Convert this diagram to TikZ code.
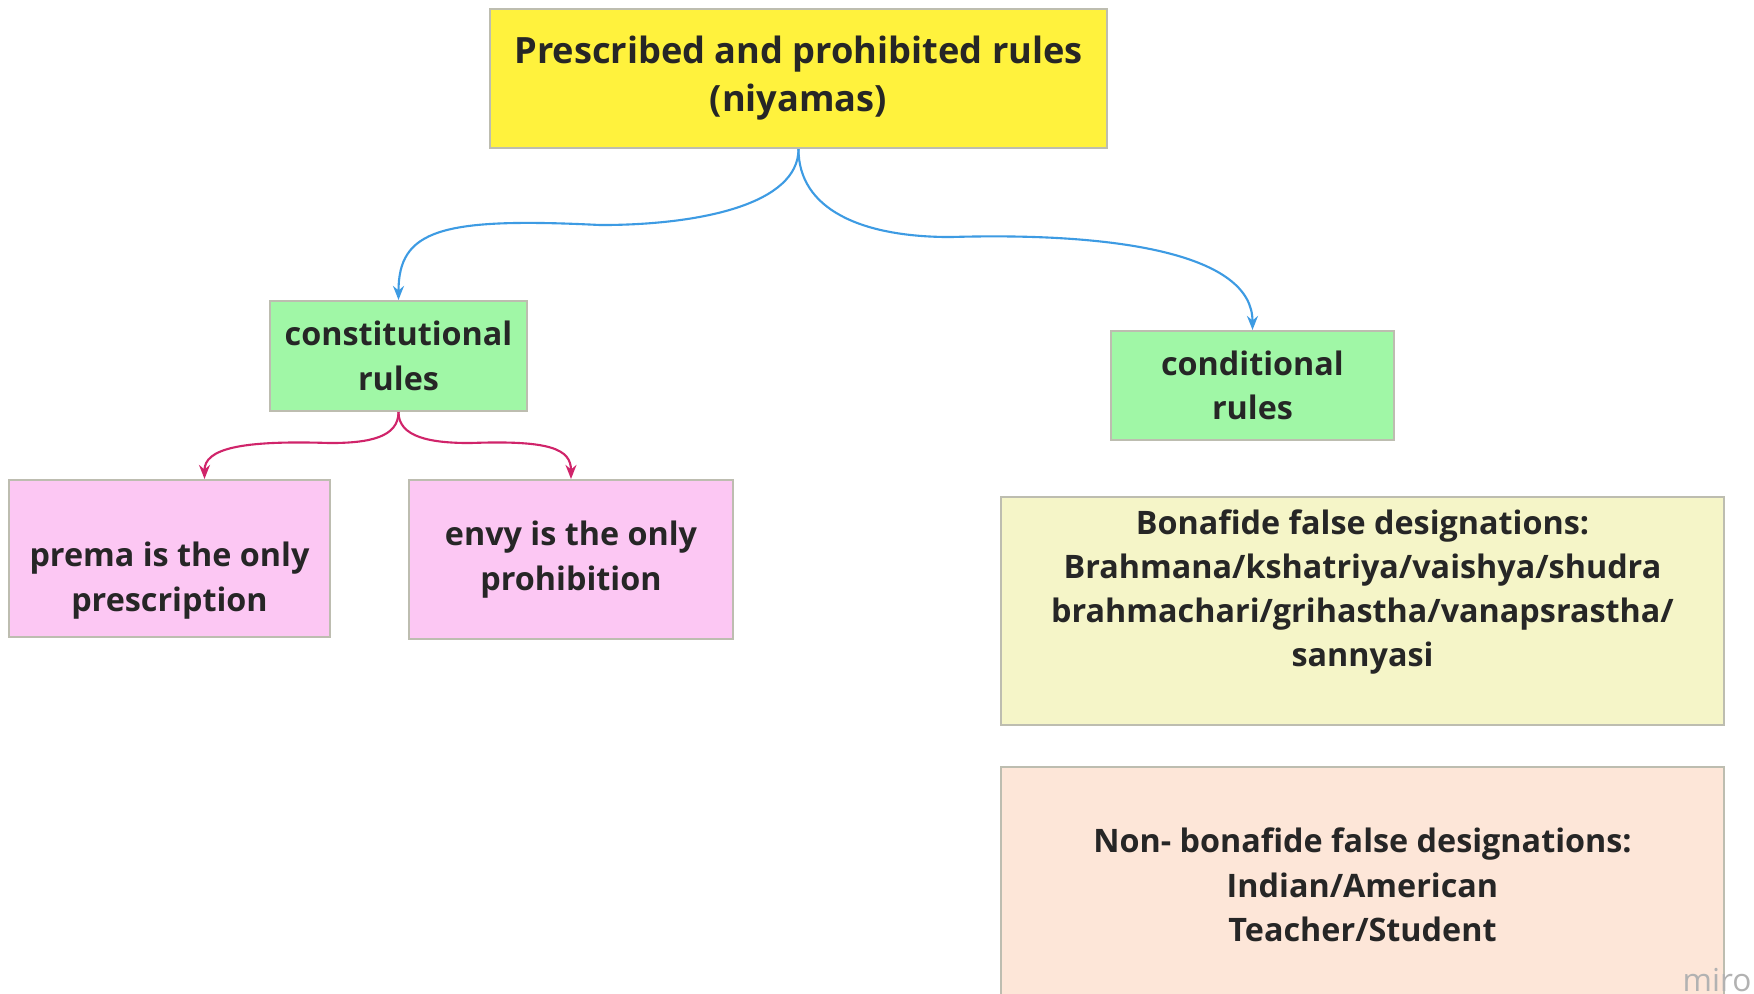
\documentclass[tikz,border=0pt]{standalone}
\usepackage{fontspec}
\setmainfont{Open Sans}
\usetikzlibrary{arrows.meta, calc}
\definecolor{cyellow}{HTML}{FFF23D}
\definecolor{cgreen}{HTML}{A0F7A6}
\definecolor{cpink}{HTML}{FCC7F3}
\definecolor{ccream}{HTML}{F5F5C8}
\definecolor{cpeach}{HTML}{FDE6D8}
\definecolor{cblue}{HTML}{3D9BE3}
\definecolor{cmagenta}{HTML}{D0246A}
\definecolor{cborder}{HTML}{BDBDB0}
\definecolor{ctext}{HTML}{262626}

\begin{document}
\begin{tikzpicture}[
  box/.style={draw=cborder, line width=0.6pt, align=center, inner sep=0pt,
    text=ctext, font=\bfseries\fontsize{9.2}{12.6}\selectfont},
  boxtext/.style={align=center, inner sep=0pt, text=ctext,
    font=\bfseries\fontsize{9.2}{12.6}\selectfont},
  bluelink/.style={draw=cblue, line width=0.6pt, -{Stealth[length=1.4mm,width=1.1mm]}},
  pinklink/.style={draw=cmagenta, line width=0.6pt, -{Stealth[length=1.4mm,width=1.1mm]}}
]
  % Fondo y margenes
  \useasboundingbox (0,0) rectangle (17.54,-9.94);
  \fill[white] (0,0) rectangle (17.54,-9.94);
  % Cajas
  \node[box, fill=cyellow, minimum width=6.17cm, minimum height=1.39cm,
    font=\bfseries\fontsize{10.3}{13.6}\selectfont] (niyamas) at (7.985,-0.785) {Prescribed and prohibited rules\\(niyamas)};
  \node[box, fill=cgreen, minimum width=2.57cm, minimum height=1.10cm] (constitutional) at (3.985,-3.56) {constitutional\\rules};
  \node[box, fill=cgreen, minimum width=2.83cm, minimum height=1.09cm] (conditional) at (12.525,-3.855) {conditional\\rules};
  \node[box, fill=cpink, minimum width=3.21cm, minimum height=1.57cm,
    label={[boxtext, yshift=-2.2mm]center:{prema is the only\\prescription}}] (prema) at (1.695,-5.585) {};
  \node[box, fill=cpink, minimum width=3.24cm, minimum height=1.59cm] (envy) at (5.71,-5.595) {envy is the only\\prohibition};
  \node[box, fill=ccream, minimum width=7.23cm, minimum height=2.28cm,
    label={[boxtext, yshift=1.9mm]center:{Bonafide false designations:\\Brahmana/kshatriya/vaishya/shudra\\brahmachari/grihastha/vanapsrastha/\\sannyasi}}] (bonafide) at (13.625,-6.11) {};
  \node[box, fill=cpeach, minimum width=7.23cm, minimum height=2.36cm] (nonbonafide) at (13.625,-8.85) {Non- bonafide false designations:\\Indian/American\\Teacher/Student};
  % Conectores
  \draw[bluelink] (niyamas.south) .. controls +(0,-0.55) and +(1,0) .. ++(-1.98,-0.76)
    .. controls +(-1.6,0.08) and +(0,0.7) .. (constitutional.north);
  \draw[bluelink] (niyamas.south) .. controls +(0,-0.6) and +(-0.9,0) .. ++(1.52,-0.88)
    .. controls +(1.7,0.05) and +(0,0.75) .. (conditional.north);
  \draw[pinklink] (constitutional.south) .. controls +(0,-0.25) and +(0.4,0) .. ++(-0.685,-0.31)
    .. controls +(-0.9,0.03) and +(0,0.3) .. ([xshift=3.5mm]prema.north);
  \draw[pinklink] (constitutional.south) .. controls +(0,-0.25) and +(-0.4,0) .. ++(0.715,-0.31)
    .. controls +(0.8,0.03) and +(0,0.3) .. (envy.north);
  % Marca
  \node[anchor=south east, inner sep=0.5pt, text=black!30, font=\fontsize{9}{9}\selectfont] (miro) at (17.54,-9.94) {miro};
\end{tikzpicture}
\end{document}
